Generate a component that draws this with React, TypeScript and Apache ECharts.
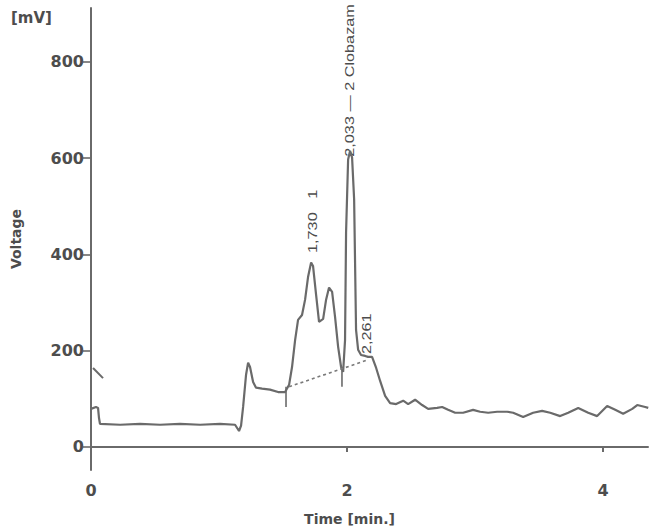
import React, { useEffect, useRef } from "react";
import * as echarts from "echarts";

// Chromatogram trace (time in min, signal in mV)
const traceTime = [
  0, 0.039, 0.055, 0.0625, 0.07, 0.227, 0.383, 0.539, 0.695, 0.852, 1.008, 1.125,
  1.156, 1.172, 1.188, 1.211, 1.227, 1.242, 1.266, 1.289, 1.336, 1.398, 1.461, 1.516,
  1.547, 1.57, 1.594, 1.617, 1.648, 1.672, 1.695, 1.719, 1.734, 1.758, 1.781, 1.813,
  1.836, 1.859, 1.883, 1.906, 1.93, 1.953, 1.969, 1.984, 1.992, 2.008, 2.023, 2.039,
  2.055, 2.07, 2.086, 2.109, 2.141, 2.164, 2.195, 2.227, 2.258, 2.297, 2.336, 2.383,
  2.438, 2.477, 2.531, 2.586, 2.633, 2.703, 2.742, 2.789, 2.844, 2.906, 2.984, 3.039,
  3.102, 3.172, 3.25, 3.297, 3.375, 3.453, 3.523, 3.586, 3.664, 3.727, 3.805, 3.883,
  3.953, 4.031, 4.094, 4.156, 4.227, 4.266, 4.328, 4.352,
];
const traceMV = [
  79, 83, 81, 60, 48, 46, 48, 46, 48, 46, 48, 46,
  33, 44, 83, 150, 175, 166, 135, 123, 121, 119, 114, 114,
  129, 166, 222, 264, 274, 306, 353, 383, 376, 316, 260, 266,
  306, 331, 322, 270, 208, 166, 156, 222, 445, 597, 615, 601,
  514, 243, 202, 191, 189, 187, 187, 164, 137, 106, 91, 89,
  96, 89, 98, 87, 79, 81, 83, 77, 71, 71, 77, 73,
  71, 73, 73, 71, 62, 71, 75, 71, 64, 71, 81, 71,
  64, 85, 77, 69, 79, 87, 83, 81,
];

// short stray stroke at start of the run
const strayTime = [0.016, 0.094];
const strayMV = [164, 143];

// dashed integration baseline
const baseTime = [1.547, 2.164];
const baseMV = [125, 181];

// integration tick marks
const markTime = [1.523, 1.96];
const markLowMV = [83, 125];
const markHighMV = [125, 160];

// peak annotations
const peakText = ["1,730   1", "2,033 — 2 Clobazam", "2,261"];
const peakTime = [1.734, 2.023, 2.156];
const peakMV = [403, 603, 193];

const xTicks = [0, 2, 4];
const yTicks = [0, 200, 400, 600, 800];

const INK = "#6a6a6a";
const TEXT = "#4d4d4d";

export default function App() {
  const ref = useRef<HTMLDivElement>(null);

  useEffect(() => {
    if (!ref.current) return;
    const chart = echarts.init(ref.current, null, { renderer: "svg" });

    const zip = (a: number[], b: number[]) => a.map((v, i) => [v, b[i]]);

    const markerSeries = markTime.map((t, i) => ({
      type: "line",
      data: [
        [t, markLowMV[i]],
        [t, markHighMV[i]],
      ],
      symbol: "none",
      silent: true,
      lineStyle: { color: INK, width: 1.6 },
    }));

    chart.setOption({
      animation: false,
      backgroundColor: "#ffffff",
      grid: { left: 91, right: 10, top: 8, bottom: 61 },
      xAxis: {
        type: "value",
        min: 0,
        max: 4.35,
        name: "Time [min.]",
        nameLocation: "middle",
        nameGap: 42,
        nameTextStyle: {
          color: TEXT,
          fontFamily: "DejaVu Sans",
          fontWeight: "bold",
          fontSize: 14,
          padding: [0, 40, 0, 0],
        },
        axisLine: { show: true, lineStyle: { color: INK, width: 2 } },
        axisTick: {
          show: true,
          customValues: xTicks,
          length: 5,
          lineStyle: { color: INK, width: 2 },
        },
        axisLabel: {
          customValues: xTicks,
          color: TEXT,
          fontFamily: "DejaVu Sans",
          fontWeight: "bold",
          fontSize: 16,
          margin: 12,
        },
        splitLine: { show: false },
      },
      yAxis: {
        type: "value",
        min: -48,
        max: 912,
        name: "Voltage",
        nameLocation: "middle",
        nameGap: 68,
        nameRotate: 90,
        nameTextStyle: {
          color: TEXT,
          fontFamily: "DejaVu Sans",
          fontWeight: "bold",
          fontSize: 14,
        },
        axisLine: { show: true, lineStyle: { color: INK, width: 2 } },
        axisTick: {
          show: true,
          customValues: yTicks,
          length: 8,
          lineStyle: { color: INK, width: 1.6 },
        },
        axisLabel: {
          customValues: yTicks,
          color: TEXT,
          fontFamily: "DejaVu Sans",
          fontWeight: "bold",
          fontSize: 16,
          margin: 7,
        },
        splitLine: { show: false },
      },
      series: [
        {
          type: "line",
          data: zip(traceTime, traceMV),
          symbol: "none",
          silent: true,
          lineStyle: { color: INK, width: 2.2 },
        },
        {
          type: "line",
          data: zip(strayTime, strayMV),
          symbol: "none",
          silent: true,
          lineStyle: { color: INK, width: 2 },
        },
        {
          type: "line",
          data: zip(baseTime, baseMV),
          symbol: "none",
          silent: true,
          lineStyle: { color: "#7a7a7a", width: 1.6, type: [3, 3] },
        },
        ...markerSeries,
      ],
    });

    const labels = peakText.map((txt, i) => {
      const p = chart.convertToPixel({ gridIndex: 0 }, [peakTime[i], peakMV[i]]) as number[];
      return {
        type: "text",
        x: p[0],
        y: p[1],
        rotation: Math.PI / 2,
        scaleX: 1.25,
        silent: true,
        style: {
          text: txt,
          fill: TEXT,
          font: '13px "Liberation Sans"',
          align: "left",
          verticalAlign: "middle",
        },
      };
    });

    chart.setOption({
      graphic: [
        ...labels,
        {
          type: "text",
          left: 11,
          top: 10,
          silent: true,
          style: {
            text: "[mV]",
            fill: TEXT,
            font: 'bold 15px "DejaVu Sans"',
          },
        },
      ],
    });

    return () => chart.dispose();
  }, []);

  return (
    <div
      ref={ref}
      style={{
        position: "fixed",
        left: 0,
        top: 0,
        width: 658,
        height: 531,
        background: "#fff",
      }}
    />
  );
}
